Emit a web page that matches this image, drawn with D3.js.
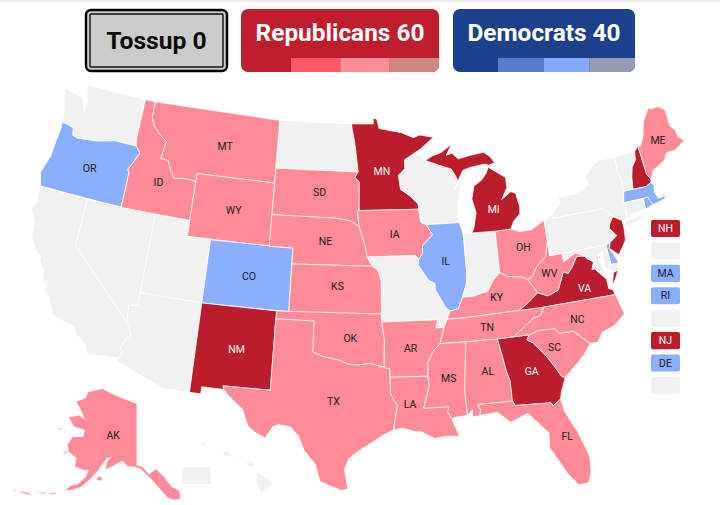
<!DOCTYPE html>
<html>
<head>
<meta charset="utf-8">
<script src="https://cdn.jsdelivr.net/npm/d3@7"></script>
<style>
  html, body { margin: 0; padding: 0; background: #fff; }
  svg { display: block; font-family: Roboto, sans-serif; }
</style>
</head>
<body>
<script>
// Ratings by state
var solidRep = ["MN", "MI", "NM", "GA", "VA", "NH", "NJ"];
var likelyRep = ["MT", "ID", "WY", "SD", "NE", "KS", "IA", "OK", "TX", "AR", "LA", "MS", "AL", "TN", "KY", "WV", "OH", "NC", "SC", "FL", "ME", "AK"];
var likelyDem = ["OR", "CO", "IL", "MA", "RI", "DE"];
var whiteLabels = ["MN", "MI", "NM", "GA", "VA"];

// Small states listed down the right side ("" = no label, VT, CT, MD)
var sideStates = ["NH", "VT", "MA", "RI", "CT", "NJ", "DE", "MD"];
var sideLabels = ["NH", "", "MA", "RI", "", "NJ", "DE", ""];

// Seat counts for the header
var tileNames = ["Tossup", "Republicans", "Democrats"];
var tileSeats = [0, 60, 40];

// Where the labels go, lon/lat
var labelStates = ["OR", "ID", "MT", "WY", "SD", "NE", "KS", "CO", "NM", "TX", "OK", "MN", "IA", "AR", "LA", "IL", "MI", "MS", "AL", "TN", "KY", "OH", "WV", "VA", "NC", "SC", "GA", "FL", "ME", "AK"];
var labelLon = [-120.5, -114.3, -108.9, -107.4, -100, -99.3, -98.2, -105.5, -105.9, -98.3, -97.1, -94.4, -93.4, -92.4, -92.6, -89.2, -84.7, -89.6, -86.6, -86.3, -85.3, -82.6, -80.8, -78.2, -79.2, -81.3, -83.3, -81.4, -69.2, -150];
var labelLat = [43.9, 44, 47, 43, 44.6, 41.5, 38.7, 39, 34.4, 31.5, 35.5, 46, 42, 34.8, 31.3, 40.1, 43.1, 32.8, 33, 35.8, 37.6, 40.5, 38.6, 37.3, 35.5, 34, 32.7, 28.3, 45.3, 64.6];

// State outlines, lon/lat rings
var stateShapes = {
  WA: [[[-124.7,48.4],[-123.1,48.15],[-122.75,48.1],[-122.4,47.3],[-122.3,47.9],[-122.5,48.3],[-122.75,49],[-117.03,49],[-117.04,46.42],[-116.92,45.99],[-118.98,46],[-119.3,45.93],[-120.5,45.7],[-121.2,45.65],[-122.3,45.55],[-122.75,45.65],[-122.9,46.1],[-123.4,46.2],[-124,46.27],[-124.1,46.9],[-124.4,47.5]]],
  OR: [[[-124,46.27],[-123.4,46.2],[-122.9,46.1],[-122.75,45.65],[-122.3,45.55],[-121.2,45.65],[-120.5,45.7],[-119.3,45.93],[-118.98,46],[-116.92,45.99],[-116.46,45.6],[-116.85,44.95],[-117.2,44.45],[-117.03,44.2],[-117.03,42],[-124.2,42],[-124.55,42.85],[-124.1,44],[-124.05,45],[-123.95,45.9]]],
  CA: [[[-124.2,42],[-120,42],[-120,39],[-114.63,35],[-114.13,34.3],[-114.43,34],[-114.72,33.4],[-114.52,33.03],[-114.72,32.72],[-117.12,32.53],[-117.3,33],[-118.4,33.74],[-118.5,34.03],[-119.2,34.15],[-120.47,34.45],[-120.65,34.9],[-121.3,35.7],[-121.9,36.6],[-122,36.95],[-122.5,37.5],[-122.5,37.8],[-123,38],[-123.7,38.9],[-123.8,39.8],[-124.35,40.4],[-124.1,41]]],
  NV: [[[-120,42],[-114.04,42],[-114.05,36.2],[-114.75,36.1],[-114.63,35],[-120,39]]],
  ID: [[[-117.03,49],[-116.05,49],[-116.05,48],[-115.7,47.5],[-115,47],[-114.3,46.65],[-114.5,45.55],[-113.8,45.5],[-113.45,44.95],[-113,44.45],[-112.3,44.55],[-111.5,44.55],[-111.05,44.48],[-111.05,42],[-117.03,42],[-117.03,44.2],[-117.2,44.45],[-116.85,44.95],[-116.46,45.6],[-116.92,45.99],[-117.04,46.42]]],
  MT: [[[-116.05,49],[-104.05,49],[-104.05,45],[-111.05,45],[-111.05,44.48],[-111.5,44.55],[-112.3,44.55],[-113,44.45],[-113.45,44.95],[-113.8,45.5],[-114.5,45.55],[-114.3,46.65],[-115,47],[-115.7,47.5],[-116.05,48]]],
  WY: [[[-111.05,45],[-104.05,45],[-104.05,41],[-111.05,41]]],
  UT: [[[-114.04,42],[-111.05,42],[-111.05,41],[-109.05,41],[-109.05,37],[-114.05,37]]],
  CO: [[[-109.05,41],[-102.05,41],[-102.05,37],[-109.05,37]]],
  AZ: [[[-114.05,37],[-109.05,37],[-109.05,31.33],[-111.07,31.33],[-114.81,32.5],[-114.72,32.72],[-114.52,33.03],[-114.72,33.4],[-114.43,34],[-114.13,34.3],[-114.63,35],[-114.75,36.1],[-114.05,36.2]]],
  NM: [[[-109.05,37],[-103,37],[-103.04,36.5],[-103.06,32],[-106.62,32],[-106.53,31.78],[-108.2,31.78],[-108.2,31.33],[-109.05,31.33]]],
  ND: [[[-104.05,49],[-97.23,49],[-96.85,47.6],[-96.56,45.94],[-104.05,45.94]]],
  SD: [[[-104.05,45.94],[-96.56,45.94],[-96.85,45.6],[-96.45,45.3],[-96.45,43.5],[-96.6,43.5],[-96.45,42.49],[-97.2,42.85],[-98.5,43],[-104.05,43]]],
  NE: [[[-104.05,43],[-98.5,43],[-97.2,42.85],[-96.45,42.49],[-96.1,41.7],[-95.9,41.2],[-95.77,40.58],[-95.3,40],[-102.05,40],[-102.05,41],[-104.05,41]]],
  KS: [[[-102.05,40],[-95.3,40],[-94.9,39.8],[-94.61,39.1],[-94.62,37],[-102.05,37]]],
  OK: [[[-103,37],[-94.62,37],[-94.62,36.5],[-94.43,35.4],[-94.48,33.64],[-95.5,33.9],[-96.5,33.8],[-97.2,33.85],[-98,34.1],[-99.2,34.3],[-100,34.56],[-100,36.5],[-103.04,36.5]]],
  TX: [[[-106.62,32],[-103.06,32],[-103.04,36.5],[-100,36.5],[-100,34.56],[-99.2,34.3],[-98,34.1],[-97.2,33.85],[-96.5,33.8],[-95.5,33.9],[-94.48,33.64],[-94.04,33.55],[-94.04,33.02],[-94.04,32],[-93.55,31.2],[-93.7,30.5],[-93.85,29.7],[-94.7,29.35],[-95.1,29.1],[-96.2,28.5],[-97.1,27.9],[-97.4,27.2],[-97.15,25.96],[-97.6,25.85],[-98.3,26.1],[-99.1,26.4],[-99.5,27.5],[-100.3,28.3],[-100.8,29.25],[-101.4,29.77],[-102.3,29.87],[-102.7,29.7],[-103.15,28.97],[-104,29.3],[-104.5,29.65],[-105,30.65],[-106.2,31.47],[-106.53,31.78]]],
  MN: [[[-97.23,49],[-95.15,49],[-95.15,49.38],[-94.8,49.3],[-94.6,48.7],[-93.5,48.55],[-92.5,48.4],[-91.4,48.05],[-90.8,48.2],[-89.5,48],[-90.8,47.3],[-92.1,46.75],[-92.29,46.66],[-92.3,46.1],[-92.9,45.7],[-92.75,44.8],[-92,44.4],[-91.25,43.85],[-91.22,43.5],[-96.45,43.5],[-96.45,45.3],[-96.85,45.6],[-96.56,45.94],[-96.85,47.6]]],
  IA: [[[-96.45,43.5],[-91.22,43.5],[-91.1,42.7],[-90.64,42.5],[-90.15,41.85],[-91.05,41.2],[-91.1,40.7],[-91.42,40.38],[-91.73,40.61],[-95.77,40.58],[-95.9,41.2],[-96.1,41.7],[-96.45,42.49],[-96.6,43.5]]],
  MO: [[[-95.77,40.58],[-91.73,40.61],[-91.42,40.38],[-91.5,40],[-90.7,39],[-90.2,38.8],[-90.2,38.4],[-89.5,37.3],[-89.15,37],[-89.4,36.5],[-89.7,36],[-90.37,36],[-90.15,36.5],[-94.62,36.5],[-94.62,37],[-94.61,39.1],[-94.9,39.8],[-95.3,40]]],
  AR: [[[-94.62,36.5],[-90.15,36.5],[-90.37,36],[-89.7,36],[-90.1,35],[-90.6,34.6],[-91.1,33.9],[-91.17,33],[-94.04,33.02],[-94.04,33.55],[-94.48,33.64],[-94.43,35.4]]],
  LA: [[[-94.04,33.02],[-91.17,33],[-91.1,32.4],[-91.6,31],[-89.73,31],[-89.85,30.65],[-89.55,30.2],[-89.4,29.8],[-89.1,29.1],[-90.1,29.15],[-90.9,29.05],[-91.8,29.5],[-92.3,29.55],[-93.2,29.78],[-93.85,29.7],[-93.7,30.5],[-93.55,31.2],[-94.04,32]]],
  WI: [[[-92.29,46.66],[-92.1,46.75],[-90.9,46.95],[-90.4,46.55],[-89,46.15],[-88.1,45.9],[-87.7,45.35],[-87.6,45.1],[-88,44.55],[-87.4,44.9],[-87.05,45.25],[-87.5,44.5],[-87.75,43.7],[-87.9,43],[-87.8,42.49],[-90.64,42.5],[-91.1,42.7],[-91.22,43.5],[-91.25,43.85],[-92,44.4],[-92.75,44.8],[-92.9,45.7],[-92.3,46.1]]],
  IL: [[[-90.64,42.5],[-87.8,42.49],[-87.53,41.72],[-87.53,39.35],[-87.6,38.7],[-88.05,37.8],[-88.45,37.1],[-89.15,37],[-89.5,37.3],[-90.2,38.4],[-90.2,38.8],[-90.7,39],[-91.5,40],[-91.42,40.38],[-91.1,40.7],[-91.05,41.2],[-90.15,41.85]]],
  IN: [[[-87.53,41.72],[-87.2,41.76],[-84.8,41.72],[-84.82,39.1],[-85.4,38.7],[-86,38],[-86.5,37.95],[-87.1,37.8],[-88.05,37.8],[-87.6,38.7],[-87.53,39.35]]],
  OH: [[[-84.8,41.72],[-83.45,41.73],[-82.7,41.5],[-81.7,41.5],[-80.52,41.98],[-80.52,40.64],[-80.87,39.7],[-81.7,39.2],[-82.2,38.6],[-82.6,38.45],[-83.1,38.65],[-84.2,38.8],[-84.82,39.1]]],
  KY: [[[-89.15,37],[-88.45,37.1],[-88.05,37.8],[-87.1,37.8],[-86.5,37.95],[-86,38],[-85.4,38.7],[-84.82,39.1],[-84.2,38.8],[-83.1,38.65],[-82.6,38.45],[-81.97,37.54],[-83.1,36.85],[-83.68,36.6],[-88.05,36.5],[-89.4,36.5]]],
  TN: [[[-90.1,35],[-89.7,36],[-89.4,36.5],[-88.05,36.5],[-83.68,36.6],[-81.68,36.59],[-82,36.1],[-82.6,36],[-84.3,35],[-85.6,34.98],[-88.2,35]]],
  VA: [[[-83.68,36.6],[-81.68,36.59],[-75.87,36.55],[-76,36.9],[-76.3,37],[-76.3,37.6],[-76.9,38.2],[-77.05,38.4],[-77.3,38.4],[-77.05,38.85],[-77.5,39.1],[-77.72,39.32],[-78.35,39.39],[-78.87,38.77],[-79.3,38.42],[-79.65,38.58],[-80.3,37.5],[-81.2,37.25],[-81.97,37.54],[-83.1,36.85]],
       [[-75.95,37.15],[-75.65,37.95],[-75.25,38.03],[-75.6,37.5]]],
  WV: [[[-82.6,38.45],[-82.2,38.6],[-81.7,39.2],[-80.87,39.7],[-80.52,40.64],[-80.52,39.72],[-79.48,39.72],[-79.48,39.2],[-78.4,39.62],[-77.72,39.32],[-78.35,39.39],[-78.87,38.77],[-79.3,38.42],[-79.65,38.58],[-80.3,37.5],[-81.2,37.25],[-81.97,37.54]]],
  PA: [[[-80.52,41.98],[-79.76,42.27],[-79.76,42],[-75.35,42],[-75.05,41.75],[-74.7,41.36],[-75.1,40.95],[-75.2,40.68],[-74.72,40.15],[-75.42,39.8],[-75.79,39.72],[-80.52,39.72],[-80.52,40.64]]],
  NY: [[[-79.76,42.27],[-78.9,42.9],[-79.05,43.26],[-77.5,43.25],[-76.4,43.55],[-76.2,43.6],[-76.3,44.2],[-75.3,44.85],[-74.7,45],[-73.35,45.01],[-73.43,44],[-73.25,43.55],[-73.28,42.75],[-73.5,42.05],[-73.49,41.2],[-73.73,41],[-74,41],[-74.7,41.36],[-75.05,41.75],[-75.35,42],[-79.76,42]],
       [[-74,40.6],[-73.7,40.9],[-72.6,40.98],[-71.9,41.07],[-72.5,40.8],[-73.5,40.6]]],
  VT: [[[-73.35,45.01],[-71.5,45.01],[-71.6,44.5],[-72.05,44.1],[-72.3,43.5],[-72.46,42.73],[-73.28,42.75],[-73.25,43.55],[-73.43,44]]],
  NH: [[[-71.5,45.01],[-71.08,45.3],[-70.98,43.4],[-70.7,43.07],[-70.82,42.87],[-71.3,42.7],[-72.46,42.73],[-72.3,43.5],[-72.05,44.1],[-71.6,44.5]]],
  ME: [[[-71.08,45.3],[-70.85,45.25],[-70.4,45.8],[-70.25,46.2],[-70,46.7],[-69.23,47.46],[-69,47.35],[-68.33,47.35],[-67.8,47.07],[-67.78,45.95],[-67.45,45.6],[-67.4,45.2],[-66.95,44.82],[-68,44.4],[-68.8,44.4],[-69.1,44],[-69.8,43.75],[-70.3,43.6],[-70.7,43.07],[-70.98,43.4]]],
  MA: [[[-73.5,42.05],[-71.8,42.02],[-71.38,42.02],[-71.38,41.9],[-71.13,41.5],[-70.65,41.55],[-70,41.65],[-69.95,41.9],[-70.2,42.07],[-70.05,41.8],[-70.55,41.8],[-70.75,42.2],[-70.6,42.65],[-70.82,42.87],[-71.3,42.7],[-72.46,42.73],[-73.28,42.75]]],
  RI: [[[-71.8,42.02],[-71.38,42.02],[-71.38,41.9],[-71.13,41.5],[-71.85,41.32]]],
  CT: [[[-73.5,42.05],[-71.8,42.02],[-71.85,41.32],[-72.9,41.25],[-73.73,41],[-73.49,41.2]]],
  NJ: [[[-74.7,41.36],[-74,41],[-74,40.45],[-74.1,39.75],[-74.9,38.95],[-75.55,39.45],[-75.42,39.8],[-74.72,40.15],[-75.2,40.68],[-75.1,40.95]]],
  DE: [[[-75.79,39.72],[-75.42,39.8],[-75.55,39.45],[-75.05,38.45],[-75.7,38.46]]],
  MD: [[[-79.48,39.72],[-75.79,39.72],[-75.7,38.46],[-75.05,38.45],[-75.25,38.03],[-75.65,37.95],[-76.2,38.4],[-76.2,39.3],[-76.6,39.25],[-76.45,38.4],[-76.3,38.05],[-76.9,38.2],[-77.05,38.4],[-77.3,38.4],[-77.05,38.85],[-77.5,39.1],[-77.72,39.32],[-78.4,39.62],[-79.48,39.2]]],
  MI: [[[-86.82,41.76],[-84.8,41.72],[-83.45,41.73],[-83.1,42.2],[-82.5,42.6],[-82.42,43],[-82.6,43.9],[-83,44.07],[-83.9,43.65],[-83.3,44.35],[-83.3,45],[-84.75,45.78],[-85,45.4],[-85.5,45],[-86.2,44.7],[-86.5,43.9],[-86.25,43],[-86.6,42]],
       [[-90.4,46.55],[-89,46.15],[-88.1,45.9],[-87.7,45.35],[-87.6,45.1],[-87.05,45.75],[-86.3,45.9],[-85,46],[-84.7,45.9],[-84.1,46],[-84.5,46.45],[-85,46.75],[-86.1,46.67],[-87.4,46.5],[-87.9,46.9],[-88.45,46.8],[-87.9,47.45],[-88.9,47],[-89.8,46.8]]],
  MS: [[[-91.17,33],[-91.1,33.9],[-90.6,34.6],[-90.1,35],[-88.2,35],[-88.1,34.9],[-88.47,31.9],[-88.4,30.37],[-89.4,30.3],[-89.55,30.2],[-89.85,30.65],[-89.73,31],[-91.6,31],[-91.1,32.4]]],
  AL: [[[-88.2,35],[-85.6,34.98],[-85.18,32.87],[-85,32.3],[-85,31],[-87.6,31],[-87.4,30.65],[-87.5,30.3],[-88.05,30.25],[-88,30.7],[-88.4,30.37],[-88.47,31.9],[-88.1,34.9]]],
  GA: [[[-85.6,34.98],[-83.1,35],[-83.35,34.7],[-82.9,34.48],[-82,33.5],[-81.4,32.6],[-81.1,32.1],[-80.85,32.03],[-81.3,31.2],[-81.45,30.72],[-82.05,30.36],[-82.2,30.57],[-84.86,30.7],[-85,31],[-85,32.3],[-85.18,32.87]]],
  FL: [[[-87.6,31],[-85,31],[-84.86,30.7],[-82.2,30.57],[-82.05,30.36],[-81.45,30.72],[-81.3,29.9],[-80.55,28.4],[-80.03,26.8],[-80.13,25.8],[-80.4,25.2],[-81.1,25.13],[-81.75,25.95],[-82.15,26.7],[-82.75,27.8],[-82.65,28.7],[-83.4,29.5],[-84,30.1],[-85.3,29.68],[-86.2,30.4],[-87.5,30.3],[-87.4,30.65]],
       [[-81.9,24.55],[-81.2,24.7],[-81.5,24.62]]],
  SC: [[[-83.1,35],[-82.3,35.2],[-81.05,35.15],[-80.8,34.82],[-79.67,34.8],[-78.55,33.86],[-79.2,33.2],[-79.9,32.7],[-80.85,32.03],[-81.1,32.1],[-81.4,32.6],[-82,33.5],[-82.9,34.48],[-83.35,34.7]]],
  NC: [[[-84.3,35],[-82.6,36],[-82,36.1],[-81.68,36.59],[-75.87,36.55],[-75.5,35.25],[-76.5,34.65],[-77.5,34.4],[-77.95,33.85],[-78.55,33.86],[-79.67,34.8],[-80.8,34.82],[-81.05,35.15],[-82.3,35.2],[-83.1,35]]],
  AK: [[[-141,69.65],[-141,60.3],[-139,60],[-137,58.9],[-134.5,59.6],[-132,58.2],[-129.8,56.6],[-127.5,55.8],[-127.5,54.6],[-129.5,54.5],[-131.5,55],[-133.5,56.3],[-135.5,57.6],[-137.5,58.6],[-139.8,59.7],[-142,60],[-144,60],[-146,60.8],[-148,60.3],[-149.5,59.8],[-151.8,59.2],[-151.4,60.6],[-150,61.2],[-151.5,61],[-152.5,60.2],[-153.5,59.5],[-154,58.9],[-156,57.5],[-158.5,56],[-161,55.2],[-163.5,54.7],[-162,55.8],[-160,56.2],[-158,57.5],[-157.2,58.7],[-158.8,58.5],[-162,58.7],[-162,60],[-165,60.6],[-166,61.6],[-164.7,63],[-161,63.5],[-161,64.5],[-165,64.5],[-168,65.6],[-164,66.5],[-161.8,66.1],[-163.5,67.1],[-166.5,68.3],[-163,69.3],[-162.5,70.3],[-156.5,71.35],[-152,70.85],[-146,70.2]],
       [[-154.5,57.5],[-152.5,57.4],[-152.3,58],[-153.5,58.1]],
       [[-167,60.2],[-165.5,60.2],[-165.7,60.7]],
       [[-171.5,63.5],[-168.8,63.2],[-169.5,63.6]],
       [[-168.5,53.3],[-165.5,53.8],[-166.5,54]],
       [[-172.5,52.8],[-168.8,53.2],[-169,53.5]],
       [[-176.5,51.8],[-173,52.1],[-173.5,52.4],[-176,52.1]],
       [[-179,51.5],[-177,51.7],[-177.5,51.9]]],
  HI: [[[-156.05,19.75],[-155.85,20.25],[-155.1,19.85],[-154.85,19.5],[-155.65,18.95]],
       [[-156.7,20.9],[-156.25,20.95],[-156,20.75],[-156.4,20.6]],
       [[-157.3,21.2],[-156.75,21.15],[-157.05,21.05]],
       [[-158.25,21.55],[-157.95,21.7],[-157.65,21.3],[-158.1,21.3]],
       [[-159.75,22.1],[-159.4,22.2],[-159.3,21.95],[-159.6,21.9]]]
};

var width = 720, height = 505;
var grey = "#f1f1f1";
var fills = { solidRep: "#bb1d2c", likelyRep: "#ff8b98", likelyDem: "#8aafff" };

function fillOf(id) {
  if (solidRep.indexOf(id) >= 0) return fills.solidRep;
  if (likelyRep.indexOf(id) >= 0) return fills.likelyRep;
  if (likelyDem.indexOf(id) >= 0) return fills.likelyDem;
  return grey;
}

// Same idea as albersUsa, but each piece can be moved on its own.
// Alaska sits with the 141st meridian straight up in this map, and squeezed a bit sideways
var k = 905;
var akRaw = d3.geoConicEquidistantRaw(39 * Math.PI / 180, 41 * Math.PI / 180);
var lower48 = d3.geoConicEqualArea().rotate([96, 0]).center([-0.6, 38.7]).parallels([29.5, 45.5]).scale(k).translate([357, 287]);
var alaska = d3.geoProjection(function(x, y) {
  var p = akRaw(x, y);
  return [p[0] * 0.82, p[1]];
}).rotate([141, 0]).center([0, 65]).scale(378).translate([137, 434]);
var hawaii = d3.geoConicEqualArea().rotate([157, 0]).center([-3, 19.9]).parallels([8, 18]).scale(k).translate([196, 478]);

function projectionOf(id) {
  if (id == "AK") return alaska;
  if (id == "HI") return hawaii;
  return lower48;
}

// d3 wants clockwise rings, flip any that came out the other way
function feature(id) {
  var polys = stateShapes[id].map(function(ring) {
    var closed = ring.concat([ring[0]]);
    if (d3.geoArea({ type: "Polygon", coordinates: [closed] }) > 2 * Math.PI) closed.reverse();
    return [closed];
  });
  return { type: "MultiPolygon", coordinates: polys };
}

var svg = d3.select("body").append("svg").attr("width", width).attr("height", height);

svg.append("rect").attr("width", width).attr("height", 2).attr("fill", "#eeeeee");

// Header tiles
var tossup = svg.append("g");
tossup.append("rect").attr("x", 86).attr("y", 10).attr("width", 141).attr("height", 61).attr("rx", 5)
  .attr("fill", "#cccccc").attr("stroke", "#000").attr("stroke-width", 2.4);
tossup.append("rect").attr("x", 90).attr("y", 14).attr("width", 133).attr("height", 53).attr("rx", 1)
  .attr("fill", "none").attr("stroke", "#111").attr("stroke-width", 1.4);
tossup.append("text").attr("x", 156.5).attr("y", 49).attr("text-anchor", "middle")
  .attr("font-size", 24.7).attr("font-weight", 700).attr("fill", "#0a0a0a")
  .text(tileNames[0] + " " + tileSeats[0]);

var repStrip = ["#ff5865", "#ff8b98", "#cf8980"];
var demStrip = ["#577ccc", "#84aaff", "#949bb3"];

function tile(x0, x1, stripStart, main, strip, name, seats) {
  var g = svg.append("g");
  g.append("clipPath").attr("id", "clip" + name)
    .append("rect").attr("x", x0).attr("y", 9).attr("width", x1 - x0).attr("height", 63).attr("rx", 7);
  var inner = g.append("g").attr("clip-path", "url(#clip" + name + ")");
  inner.append("rect").attr("x", x0).attr("y", 9).attr("width", x1 - x0).attr("height", 63).attr("fill", main);
  var band = d3.scaleBand().domain(d3.range(strip.length)).range([stripStart, x1]);
  inner.selectAll("rect.strip").data(strip).enter().append("rect")
    .attr("class", "strip")
    .attr("x", function(d, i) { return band(i); })
    .attr("y", 58)
    .attr("width", band.bandwidth())
    .attr("height", 14)
    .attr("fill", function(d) { return d; });
  g.append("text").attr("x", (x0 + x1) / 2).attr("y", 41).attr("text-anchor", "middle")
    .attr("font-size", 24.4).attr("font-weight", 700).attr("fill", "#fff")
    .text(name + " " + seats);
}
tile(241, 439, 291, "#bf1e2d", repStrip, tileNames[1], tileSeats[1]);
tile(453, 635, 498, "#1c408c", demStrip, tileNames[2], tileSeats[2]);

// Map
var ids = Object.keys(stateShapes);
svg.append("g").selectAll("path").data(ids).enter().append("path")
  .attr("d", function(id) { return d3.geoPath(projectionOf(id))(feature(id)); })
  .attr("fill", fillOf)
  .attr("stroke", "#fff")
  .attr("stroke-width", 0.8)
  .attr("stroke-linejoin", "round");

// DC box below the map
svg.append("rect").attr("x", 182).attr("y", 467).attr("width", 29).attr("height", 17).attr("rx", 1).attr("fill", grey);

// State labels
svg.append("g").selectAll("text").data(labelStates).enter().append("text")
  .attr("x", function(id, i) { return projectionOf(id)([labelLon[i], labelLat[i]])[0]; })
  .attr("y", function(id, i) { return projectionOf(id)([labelLon[i], labelLat[i]])[1]; })
  .attr("dy", "0.35em")
  .attr("text-anchor", "middle")
  .attr("font-size", 10.5)
  .attr("fill", function(id) { return whiteLabels.indexOf(id) >= 0 ? "#fff" : "#1a1a1a"; })
  .text(function(id) { return id; });

// Small-state boxes
var sideY = d3.scaleBand().domain(sideStates).range([220, 394]).paddingInner(0.24).paddingOuter(0);
var side = svg.append("g").selectAll("g").data(sideStates).enter().append("g");
side.append("rect")
  .attr("x", 651)
  .attr("y", function(id) { return sideY(id); })
  .attr("width", 29)
  .attr("height", sideY.bandwidth())
  .attr("rx", 2)
  .attr("fill", fillOf);
side.append("text")
  .attr("x", 665.5)
  .attr("y", function(id) { return sideY(id) + sideY.bandwidth() / 2; })
  .attr("dy", "0.35em")
  .attr("text-anchor", "middle")
  .attr("font-size", 10.5)
  .attr("fill", function(id) { return fillOf(id) == fills.solidRep ? "#fff" : "#1a1a2a"; })
  .text(function(id, i) { return sideLabels[i]; });
</script>
</body>
</html>
